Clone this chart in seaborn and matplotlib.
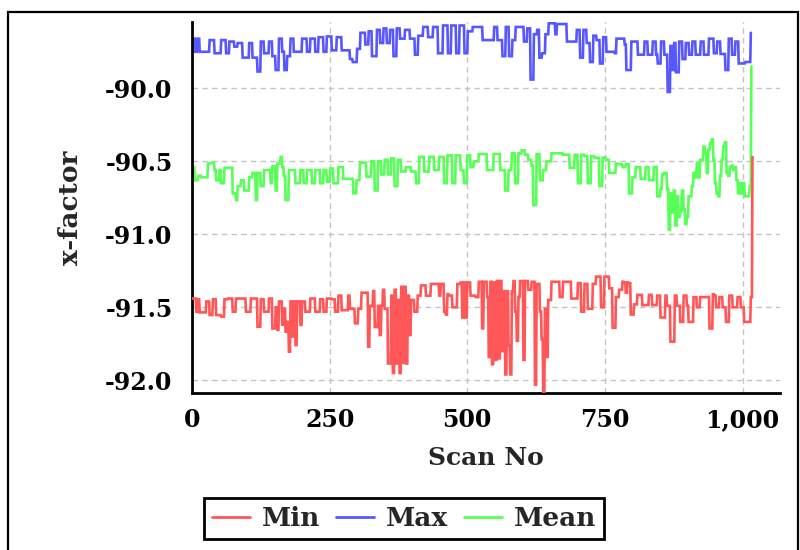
import numpy as np
import pandas as pd
import matplotlib
matplotlib.use("Agg")
import matplotlib.pyplot as plt
import matplotlib.ticker as mticker
from matplotlib.patches import Rectangle
import seaborn as sns

# ---------------- data (run-length encoded step series) -------------
series_names = ["Min", "Max", "Mean"]

max_levels = [
    -89.66, -89.75, -89.66, -89.75, -89.67, -89.76, -89.67, -89.76, -89.68, -89.715, -89.69,
    -89.79, -89.69, -89.79, -89.885, -89.68, -89.76, -89.68, -89.78, -89.875, -89.66, -89.75,
    -89.875, -89.78, -89.66, -89.75, -89.66, -89.75, -89.66, -89.75, -89.65, -89.75, -89.645,
    -89.74, -89.65, -89.74, -89.80, -89.82, -89.73, -89.62, -89.70, -89.61, -89.78, -89.60,
    -89.69, -89.59, -89.69, -89.60, -89.78, -89.59, -89.66, -89.60, -89.66, -89.77, -89.64,
    -89.58, -89.65, -89.58, -89.76, -89.57, -89.76, -89.57, -89.76, -89.57, -89.76, -89.61,
    -89.58, -89.67, -89.58, -89.67, -89.78, -89.58, -89.78, -89.67, -89.58, -89.68, -89.59,
    -89.94, -89.63, -89.60, -89.79, -89.76, -89.63, -89.555, -89.63, -89.56, -89.68, -89.60,
    -89.79, -89.60, -89.69, -89.82, -89.64, -89.67, -89.83, -89.65, -89.75,
    -89.76, -89.66, -89.70, -89.875, -89.68, -89.77, -89.68, -89.77, -89.68, -89.77, -89.83,
    -89.68, -89.77, -90.025, -89.71, -89.875, -89.69, -89.89, -89.68, -89.80, -89.69, -89.77,
    -89.68, -89.77, -89.68, -89.77, -89.66, -89.76, -89.68, -89.765, -89.875, -89.66, -89.77,
    -89.68, -89.83, -89.83, -89.82, -89.62,
]
max_runs = [
    6, 4, 4, 18, 9, 12, 9, 6, 9, 6, 9, 12, 6, 9, 6, 6, 9, 6, 6, 6, 6, 4, 5, 6, 6, 15, 9, 6, 9, 6, 9, 6, 9,
    9, 9, 15, 5, 8, 6, 9, 6, 6, 9, 6, 6, 6, 6, 6, 6, 6, 9, 9, 9, 6, 9, 9, 9, 9, 9, 9, 6, 9, 6, 9, 6, 9,
    18, 21, 6, 9, 6, 6, 6, 6, 15, 6, 6, 6, 6, 4, 5, 6, 6, 12, 3, 18, 18, 6, 6, 6, 6, 6, 6, 6, 6, 6, 15,
    3, 15, 3, 9, 12, 12, 6, 9, 6, 3, 6, 6, 6, 5, 4, 3, 3, 6, 6, 6, 6, 6, 6, 9, 6, 9, 9, 6, 6, 9, 6, 6,
    6, 6, 4, 8, 10, 1,
]

mean_levels = [
    -90.54, -90.63, -90.60, -90.61, -90.61, -90.515, -90.51, -90.56, -90.63, -90.56, -90.65,
    -90.545, -90.545, -90.72, -90.765, -90.67, -90.63, -90.70, -90.70, -90.61, -90.58, -90.765,
    -90.58, -90.67, -90.56, -90.56, -90.65, -90.535, -90.70, -90.515, -90.47, -90.54, -90.60,
    -90.765, -90.56, -90.56, -90.65, -90.56, -90.65, -90.56, -90.65, -90.56, -90.65, -90.56,
    -90.64, -90.55,
    -90.65, -90.54, -90.62, -90.62, -90.72, -90.63, -90.51, -90.605, -90.50, -90.70, -90.50,
    -90.59, -90.49, -90.59, -90.48, -90.67, -90.49, -90.57, -90.54, -90.57, -90.65, -90.47,
    -90.57, -90.47, -90.56, -90.47, -90.65, -90.46, -90.65, -90.46, -90.56, -90.65, -90.46,
    -90.54,
    -90.50, -90.45, -90.45, -90.56, -90.45, -90.56, -90.70, -90.56, -90.445, -90.65, -90.445,
    -90.425, -90.455, -90.49, -90.53, -90.80, -90.45, -90.63, -90.56, -90.50, -90.445, -90.445,
    -90.455, -90.545, -90.455, -90.65, -90.455, -90.465, -90.65, -90.465, -90.475, -90.67,
    -90.475, -90.49, -90.58,
    -90.515, -90.52, -90.54, -90.52, -90.72, -90.61, -90.54, -90.62, -90.54, -90.63, -90.54,
    -90.74, -90.69, -90.59, -90.58, -90.69, -90.97, -90.72, -90.85, -90.70, -90.94, -90.74,
    -90.88, -90.84, -90.70, -90.83, -90.93, -90.88, -90.74, -90.67, -90.58, -90.61, -90.51,
    -90.61, -90.49, -90.40, -90.445, -90.58, -90.42, -90.375, -90.35, -90.49, -90.65, -90.72,
    -90.74, -90.60, -90.49, -90.40, -90.37, -90.58, -90.60, -90.54, -90.53, -90.56, -90.54,
    -90.63, -90.72, -90.65, -90.72, -90.65, -90.74, -90.74, -90.74, -90.67, -89.85,
]
mean_runs = [
    5, 6, 6, 6, 6, 6, 6, 3, 6, 3, 6, 6, 9, 6, 3, 6, 6, 3, 6, 6, 6, 3, 6, 6, 6, 6, 3, 6, 3, 6, 3, 3, 3,
    6, 6, 6, 9, 6, 6, 9, 6, 9, 6, 6, 6, 6,
    9, 9, 9, 9, 6, 6, 12, 9, 6, 6, 6, 6, 6, 6, 6, 6, 6, 9, 9, 9, 6, 9, 9, 9, 9, 9, 6, 9, 6, 9, 6, 6,
    6, 6,
    9, 6, 9, 12, 12, 9, 6, 6, 6, 6, 6, 6, 6, 6, 3, 6, 6, 6, 6, 9, 12, 9, 12, 9, 6, 6, 6, 6, 6, 6, 9,
    6, 6, 6, 12,
    3, 9, 6, 6, 6, 6, 9, 9, 6, 9, 6, 6, 3, 3, 6, 3, 3, 3, 3, 3, 3, 3, 3, 3, 3, 3, 3, 3, 6, 3, 3, 3,
    3, 3, 6, 3, 3, 3, 3, 3, 3, 3, 3, 3, 3, 3, 3, 3, 3, 3, 3, 3, 3, 3, 3, 3, 3, 3, 3, 3, 3, 3, 3, 3, 1,
]

min_levels = [
    -91.44, -91.53, -91.445, -91.535, -91.535, -91.46, -91.553, -91.445, -91.553, -91.564,
    -91.445, -91.44, -91.53, -91.44, -91.44, -91.53, -91.44, -91.633, -91.445, -91.53, -91.44,
    -91.645, -91.50, -91.655, -91.46, -91.62, -91.51, -91.667, -91.60, -91.804, -91.46, -91.70,
    -91.46, -91.758, -91.46, -91.62, -91.46, -91.53, -91.44, -91.53, -91.445, -91.53, -91.44,
    -91.445, -91.53, -91.42, -91.52, -91.52, -91.42, -91.51, -91.61, -91.51, -91.40, -91.77,
    -91.49, -91.39, -91.635, -91.49, -91.69, -91.49, -91.38, -91.51, -91.885, -91.42, -91.95,
    -91.38, -91.885, -91.45, -91.95, -91.36, -91.88, -91.36, -91.885, -91.42, -91.69, -91.45,
    -91.53, -91.42, -91.35, -91.42, -91.34, -91.34, -91.42, -91.34, -91.53, -91.55, -91.41,
    -91.42, -91.50, -91.34, -91.33, -91.57, -91.33, -91.57, -91.33, -91.42,
    -91.43, -91.325, -91.644, -91.325, -91.43, -91.84, -91.325, -91.89, -91.33, -91.86, -91.32,
    -91.85, -91.32, -91.80, -91.39, -91.96, -91.39, -91.76, -91.96, -91.39, -91.32, -91.53,
    -91.73, -91.43, -91.32, -91.86, -91.32, -91.38, -91.325, -92.03, -91.34, -91.53, -91.72,
    -92.08, -91.51, -91.84, -91.45, -91.325, -91.325, -91.43, -91.325, -91.325, -91.44, -91.44,
    -91.335, -91.53, -91.34, -91.51, -91.34, -91.29, -91.50, -91.29, -91.37, -91.64, -91.43,
    -91.38, -91.325, -91.33, -91.40, -91.33, -91.335, -91.55, -91.48, -91.415, -91.485, -91.415,
    -91.485, -91.42, -91.57, -91.42, -91.49, -91.735, -91.42, -91.49, -91.60, -91.42, -91.49,
    -91.60, -91.43, -91.50, -91.43, -91.43, -91.645, -91.41, -91.42, -91.50, -91.43, -91.50,
    -91.60, -91.42, -91.50, -91.43, -91.50, -91.60, -91.43, -90.47,
]
min_runs = [
    8, 3, 3, 6, 6, 6, 6, 6, 9, 6, 6, 9, 6, 9, 9, 9, 12, 6, 6, 9, 6, 6, 3, 3, 6, 3, 3, 3, 3, 3, 3, 3,
    3, 3, 6, 3, 6, 9, 9, 9, 6, 6, 9,
    6, 6, 6, 6, 6, 3, 9, 6, 6, 12, 3, 6, 3, 6, 3, 3, 3, 3, 6, 6, 3, 3, 3, 3, 3, 3, 3, 3, 3, 3, 3, 3,
    6, 6, 6, 9, 9, 9, 6, 3, 6, 3, 3, 3, 6, 9, 6, 3, 3, 3, 3, 6, 9,
    6, 6, 3, 6, 3, 3, 3, 3, 3, 3, 3, 3, 3, 3, 3, 3, 3, 3, 3, 3, 3, 3, 3, 3, 6, 3, 6, 6, 6, 3, 6, 3,
    3, 3, 3, 3, 6, 6, 9, 6, 6, 9, 6, 6, 6, 6, 6, 9, 6, 9, 6, 9, 6, 6, 6,
    6, 3, 3, 3, 3, 3, 6, 6, 9, 12, 6, 9, 6, 9, 3, 6, 8, 4, 6, 6, 6, 3, 9, 6, 6, 6, 11, 6, 3, 3, 6,
    6, 6, 6, 6, 9, 6, 6, 12, 3, 1,
]

x_ticks = [0, 250, 500, 750, 1000]
y_ticks = [-92.0, -91.5, -91.0, -90.5, -90.0]
colors = {"Min": "#ff5757", "Max": "#5757ff", "Mean": "#57ff57"}


def expand(levels, runs):
    n = min(len(levels), len(runs))
    return np.repeat(np.asarray(levels[:n], float), np.asarray(runs[:n], int))


frames = []
for name, lv, rn in [("Min", min_levels, min_runs),
                     ("Max", max_levels, max_runs),
                     ("Mean", mean_levels, mean_runs)]:
    vals = expand(lv, rn)
    frames.append(pd.DataFrame({"Scan No": np.arange(len(vals)), "x-factor": vals, "series": name}))
df = pd.concat(frames, ignore_index=True)

# ---------------- styling -------------
sns.set_style("white")
plt.rcParams["font.family"] = ["DejaVu Serif"]
plt.rcParams["font.weight"] = "bold"
plt.rcParams["axes.labelweight"] = "bold"

fig = plt.figure(figsize=(8, 5.5), dpi=100)
ax = fig.add_axes([192 / 800, 1 - 393 / 550, (780 - 192) / 800, (393 - 22) / 550])

sns.lineplot(data=df, x="Scan No", y="x-factor", hue="series", hue_order=series_names,
             palette=colors, estimator=None, sort=False, linewidth=1.9, ax=ax, legend=True)
for ln in ax.lines:
    ln.set_solid_joinstyle("miter")
if ax.lines:
    ax.lines[0].set_zorder(3)

ax.set_xlim(0, 1068)
ax.set_ylim(-92.087, -89.546)
ax.set_xticks(x_ticks)
ax.set_yticks(y_ticks)
ax.xaxis.set_major_formatter(mticker.FuncFormatter(lambda v, p: f"{int(v):,}"))
ax.yaxis.set_major_formatter(mticker.FuncFormatter(lambda v, p: f"{v:.1f}"))

ax.grid(True, color="#c4c4c4", linestyle=(0, (4, 3)), linewidth=1.0)
ax.set_axisbelow(True)
for s in ["top", "right"]:
    ax.spines[s].set_visible(False)
for s in ["left", "bottom"]:
    ax.spines[s].set_color("black")
    ax.spines[s].set_linewidth(2.0)

ax.tick_params(axis="both", direction="out", length=6, width=1.6, color="black",
               labelsize=17, labelcolor="black")
ax.tick_params(axis="y", pad=8)
ax.tick_params(axis="x", pad=5)
for lab in ax.get_xticklabels() + ax.get_yticklabels():
    lab.set_fontweight("bold")

ax.set_xlabel("Scan No", fontsize=18, fontweight="bold", labelpad=10)
ax.set_ylabel("x-factor", fontsize=19, fontweight="bold", labelpad=16)

handles, labels = ax.get_legend_handles_labels()
leg = ax.legend(handles, labels, loc="upper center", bbox_to_anchor=(0.505, 1 - 498 / 550),
                bbox_transform=fig.transFigure, ncol=3, frameon=True, fancybox=False,
                edgecolor="black", framealpha=1, borderaxespad=0, handlelength=1.45,
                handletextpad=0.45, columnspacing=0.6, borderpad=0.3,
                prop={"size": 19, "weight": "bold"})
leg.get_frame().set_linewidth(2.0)
for h in leg.get_lines():
    h.set_linewidth(2.0)

fig.patches.append(Rectangle((8 / 800, -0.05), (798 - 8) / 800, 1.05 - 12 / 550,
                             transform=fig.transFigure, fill=False, edgecolor="black",
                             linewidth=1.6))

fig.savefig("out.png", dpi=100, facecolor="white")
